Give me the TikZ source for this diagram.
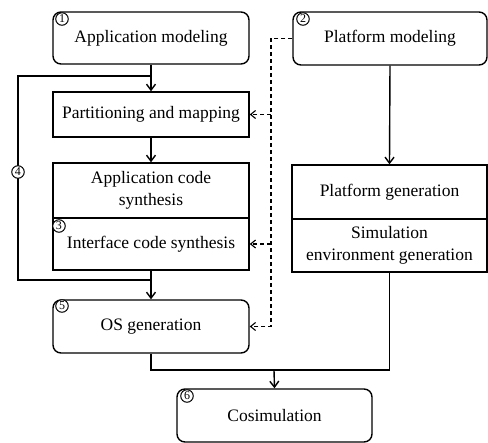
\documentclass[tikz,border=0pt]{standalone}
\usepackage{fontspec}
\setmainfont{Liberation Serif}
\usetikzlibrary{arrows.meta}
\begin{document}
\begin{tikzpicture}[x=1pt,y=-1pt,
  every node/.style={font=\fontsize{17.5}{22}\selectfont, align=center, inner sep=0pt},
  box/.style={draw, line width=1.4pt, minimum width=196pt},
  rbox/.style={box, rounded corners=8pt},
  tag/.style={draw, circle, line width=1pt, fill=white, minimum size=12.5pt,
              font=\fontsize{12}{12}\selectfont},
  ln/.style={line width=1.4pt},
  arr/.style={ln, -{Straight Barb[length=6pt,width=9pt,line width=1.4pt]}},
  dsh/.style={line width=1.1pt, dash pattern=on 4pt off 3pt,
              -{Straight Barb[length=5pt,width=8pt,line width=1.1pt]}}]
\useasboundingbox (0,0) rectangle (488,443);

% left column
\node[rbox, minimum height=52pt] (app) at (151,38) {Application modeling};
\node[box, minimum height=45pt] (part) at (151,114.5) {Partitioning and mapping};
\node[box, minimum height=55pt] (acode) at (151,190.5) {Application code\\synthesis};
\node[box, minimum height=52pt] (intf) at (151,244) {Interface code synthesis};
\node[rbox, minimum height=53pt] (os) at (151,326.5) {OS generation};

% right column
\node[rbox, minimum width=194pt, minimum height=53pt] (pm) at (390,38.5) {Platform modeling};
\node[box, minimum width=195pt, minimum height=54pt] (pgen) at (389.5,192) {Platform generation};
\node[box, minimum width=195pt, minimum height=53pt] (sim) at (389.5,245.5) {Simulation\\environment generation};

% bottom
\node[rbox, minimum width=195pt, minimum height=53pt] (cos) at (274.5,415.5) {Cosimulation};

% helper points
\coordinate (lp) at (18,0);
\coordinate (dl) at (271,0);
\coordinate (j1) at (151,76);
\coordinate (j2) at (151,280);
\coordinate (m) at (274,370);

% solid flow
\draw[arr] (app.south) -- (part.north);
\draw[arr] (part.south) -- (acode.north);
\draw[arr] (intf.south) -- (os.north);
\draw[ln] (j1) -| (lp |- j2) -- (j2);
\draw[arr] (pm.south) -- (pgen.north);
\draw[ln] (os.south) |- (m);
\draw[ln] (sim.south) |- (m);
\draw[arr] (m) -- (cos.north);

% dashed platform links
\draw[dsh] (pm.west) -- (pm.west -| dl) -- (os.east -| dl) -- (os.east);
\draw[dsh] (part.east -| dl) -- (part.east);
\draw[dsh] (intf.east -| dl) -- (intf.east);

% step numbers
\node[tag] (c1) at (62,19) {1};
\node[tag] (c2) at (303,19) {2};
\node[tag] (c3) at (59,226) {3};
\node[tag] (c4) at (18,172) {4};
\node[tag] (c5) at (62,306) {5};
\node[tag] (c6) at (187,396) {6};
\end{tikzpicture}
\end{document}
